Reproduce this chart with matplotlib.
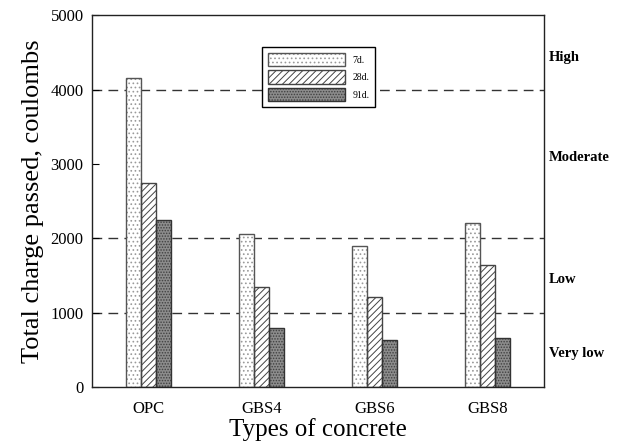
import numpy as np
import matplotlib
matplotlib.use("Agg")
import matplotlib.pyplot as plt
from matplotlib.legend_handler import HandlerTuple

plt.rcParams['font.family'] = ['Liberation Serif', 'DejaVu Serif']
plt.rcParams['hatch.linewidth'] = 0.7

concretes = ["OPC", "GBS4", "GBS6", "GBS8"]
ages = ["7d.", "28d.", "91d."]
charge_7d = [4150, 2056, 1895, 2210]
charge_28d = [2750, 1350, 1210, 1640]
charge_91d = [2245, 790, 632, 655]

# chloride permeability classes (ASTM C1202) and their boundaries
class_names = ["High", "Moderate", "Low", "Very low"]
class_label_pos = [4430, 3080, 1450, 450]
class_limits = [1000, 2000, 4000]

fig = plt.figure(figsize=(6.21, 4.46), dpi=100)
ax = fig.add_axes([0.148, 0.132, 0.728, 0.834])

x = np.arange(len(concretes))
w = 0.133

for lim in class_limits:
    ax.axhline(lim, color="#333333", lw=1.0, ls=(0, (7, 4.5)), zorder=1)


def hatched_bars(pos, vals, face, hatch, hcolor, edge):
    # hatch takes the edge colour, so draw fill+hatch first and the outline on top
    fill = ax.bar(pos, vals, w, facecolor=face, edgecolor=hcolor,
                  hatch=hatch, lw=0, zorder=2)
    line = ax.bar(pos, vals, w, fill=False, edgecolor=edge, lw=1.0, zorder=3)
    return (fill, line)


h1 = hatched_bars(x - w, charge_7d, "white", "....", "#9a9a9a", "#555555")
h2 = hatched_bars(x, charge_28d, "white", "/////", "#444444", "#444444")
h3 = hatched_bars(x + w, charge_91d, "#8c8c8c", "......", "#404040", "#333333")

ax.set_xlim(-0.5, 3.5)
ax.set_ylim(0, 5000)
ax.set_yticks(range(0, 5001, 1000))
ax.set_xticks(x)
ax.set_xticklabels(concretes)
ax.tick_params(axis="y", direction="in", length=5, labelsize=12, pad=6)
ax.tick_params(axis="x", length=0, labelsize=12, pad=10)
for s in ax.spines.values():
    s.set_linewidth(1.0)
    s.set_color("#222222")

ax.set_xlabel("Types of concrete", fontsize=18, labelpad=1)
ax.set_ylabel("Total charge passed, coulombs", fontsize=19, labelpad=5)

for name, pos in zip(class_names, class_label_pos):
    ax.text(1.010, pos, name, transform=ax.get_yaxis_transform(),
            fontsize=10.5, fontweight="bold", va="center", ha="left")

leg = ax.legend([h1, h2, h3], ages, loc="upper left",
                handler_map={tuple: HandlerTuple(ndivide=1, pad=0)},
                bbox_to_anchor=(0.376, 0.914), borderaxespad=0,
                fontsize=7, handlelength=7.9, handleheight=1.7,
                fancybox=False, framealpha=1, edgecolor="black",
                borderpad=0.6, labelspacing=0.45, handletextpad=0.8)
leg.get_frame().set_linewidth(1.0)
leg.set_zorder(5)

fig.savefig("out.png", dpi=100)
